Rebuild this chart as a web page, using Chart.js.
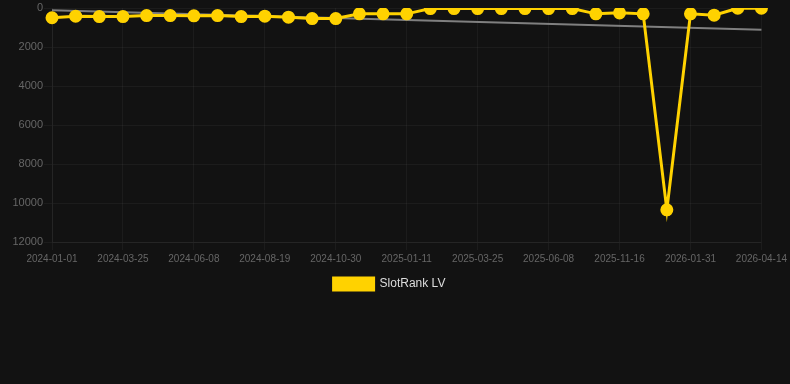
<!DOCTYPE html>
<html>
<head>
<meta charset="utf-8">
<script src="https://cdn.jsdelivr.net/npm/chart.js@4/dist/chart.umd.min.js"></script>
<style>
html,body{margin:0;padding:0;background:#121212;}
#wrap{position:relative;width:790px;height:300px;}
</style>
</head>
<body>
<div id="wrap"><canvas id="c"></canvas></div>
<script>
const dates = [
  "2024-01-01","2024-01-29","2024-02-26","2024-03-25","2024-04-19","2024-05-14",
  "2024-06-08","2024-07-02","2024-07-26","2024-08-19","2024-09-12","2024-10-06",
  "2024-10-30","2024-11-23","2024-12-18","2025-01-11","2025-02-04","2025-02-28",
  "2025-03-25","2025-04-18","2025-05-13","2025-06-08","2025-07-31","2025-09-23",
  "2025-11-16","2025-12-11","2026-01-06","2026-01-31","2026-02-24","2026-03-20",
  "2026-04-14"
];
const rankValues = [
  500, 420, 440, 440, 390, 390,
  400, 390, 440, 420, 470, 540,
  540, 300, 300, 300, 30, 30,
  30, 30, 30, 30, 30, 300,
  250, 300, 10350, 300, 370, 10,
  10
];
const trendValues = [120].concat(new Array(29).fill(null), [1115]);
const yTicks = { min: 0, max: 12000, step: 2000 };

const FONT = "'Liberation Sans', Arial, sans-serif";

new Chart(document.getElementById('c'), {
  type: 'line',
  data: {
    labels: dates,
    datasets: [
      {
        label: 'SlotRank LV',
        data: rankValues,
        borderColor: '#ffd200',
        backgroundColor: '#ffd200',
        pointBackgroundColor: '#ffd200',
        pointBorderColor: '#ffd200',
        pointRadius: 5,
        pointHoverRadius: 5,
        borderWidth: 3,
        tension: 0
      },
      {
        label: 'Trend',
        data: trendValues,
        borderColor: 'rgba(140,140,140,0.9)',
        backgroundColor: 'rgba(140,140,140,0.9)',
        pointRadius: 0,
        borderWidth: 2,
        spanGaps: true
      }
    ]
  },
  options: {
    responsive: true,
    maintainAspectRatio: false,
    animation: false,
    layout: { padding: { left: 0, right: 11, top: -3 } },
    plugins: {
      legend: {
        position: 'bottom',
        labels: {
          color: '#dddddd',
          font: { size: 12, family: FONT },
          boxWidth: 40,
          filter: (item) => item.datasetIndex === 0
        }
      },
      tooltip: { enabled: false }
    },
    scales: {
      x: {
        grid: { color: 'rgba(255,255,255,0.045)' },
        border: { color: 'rgba(255,255,255,0.045)' },
        ticks: {
          color: '#666',
          maxRotation: 0,
          autoSkip: true,
          font: { size: 10, family: FONT }
        }
      },
      y: {
        reverse: true,
        min: yTicks.min,
        max: yTicks.max,
        afterFit: (s) => { s.width = 52; },
        grid: { color: 'rgba(255,255,255,0.045)' },
        border: { color: 'rgba(255,255,255,0.045)' },
        ticks: {
          stepSize: yTicks.step,
          color: '#666',
          padding: 1,
          font: { size: 11, family: FONT },
          callback: (v) => String(v)
        }
      }
    }
  }
});
</script>
</body>
</html>
